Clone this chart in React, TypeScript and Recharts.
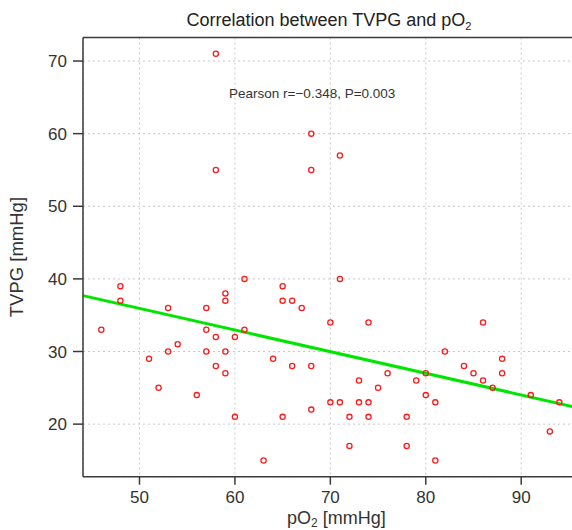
import React from 'react';
import { ScatterChart, Scatter, XAxis, YAxis, CartesianGrid, ReferenceLine, ReferenceDot } from 'recharts';

// pO2 [mmHg] and TVPG [mmHg] for each patient
const po2 = [
  46, 48, 48, 51, 52, 53, 53, 54, 56, 57, 57, 57, 58, 58, 58, 58, 59, 59, 59, 59,
  60, 60, 61, 61, 63, 64, 65, 65, 65, 66, 66, 67, 68, 68, 68, 68, 70, 70, 71, 71,
  71, 72, 72, 73, 73, 74, 74, 74, 75, 76, 78, 78, 79, 80, 80, 81, 81, 82, 84, 85,
  86, 86, 87, 88, 88, 91, 93, 94,
];
const tvpg = [
  33, 39, 37, 29, 25, 36, 30, 31, 24, 36, 33, 30, 71, 55, 32, 28, 38, 37, 30, 27,
  32, 21, 40, 33, 15, 29, 39, 37, 21, 37, 28, 36, 60, 55, 28, 22, 34, 23, 57, 40,
  23, 21, 17, 26, 23, 34, 23, 21, 25, 27, 21, 17, 26, 27, 24, 23, 15, 30, 28, 27,
  34, 26, 25, 29, 27, 24, 19, 23,
];

// fitted regression line, ends at the plot edges
const fitX = [44.08, 95.92];
const fitY = [37.7, 22.26];

const xTicks = [50, 60, 70, 80, 90];
const yTicks = [20, 30, 40, 50, 60, 70];
const xDomain = [44.08, 95.92];
const yDomain = [12.76, 73.24];

const points = po2.map((x, i) => ({ x, y: tvpg[i] }));

const FONT = '"Liberation Sans", Arial, Helvetica, sans-serif';
const AXIS = '#3a3a3a';

const Ring = (props: any) => (
  <circle cx={props.cx} cy={props.cy} r={2.6} fill="none" stroke="#ff1a1a" strokeWidth={1.3} />
);

const XTitle = (props: any) => {
  const vb = props.viewBox;
  return (
    <text x={vb.x + vb.width / 2 + 6} y={524} textAnchor="middle" fontSize={18} fill="#333" fontFamily={FONT}>
      pO<tspan fontSize={12} dy={3}>2</tspan>
      <tspan dy={-3}> [mmHg]</tspan>
    </text>
  );
};

const YTitle = (props: any) => {
  const vb = props.viewBox;
  const cy = vb.y + vb.height / 2;
  return (
    <text x={23} y={cy} transform={`rotate(-90, 23, ${cy})`} textAnchor="middle" fontSize={18.5} fill="#333" fontFamily={FONT}>
      TVPG [mmHg]
    </text>
  );
};

const Pearson = (props: any) => (
  <text x={props.cx} y={props.cy} textAnchor="middle" fontSize={13.5} fill="#333" fontFamily={FONT}>
    Pearson r=−0.348, P=0.003
  </text>
);

export default function App() {
  return (
    <div style={{ position: 'absolute', left: 0, top: 0, width: 572, height: 530, overflow: 'hidden', background: '#fff', fontFamily: FONT }}>
      <div style={{ position: 'absolute', left: 0, top: 10, width: 658, textAlign: 'center', fontSize: 18, color: '#222', lineHeight: '20px' }}>
        Correlation between TVPG and pO<span style={{ fontSize: 11, position: 'relative', top: 4 }}>2</span>
      </div>
      <ScatterChart width={580} height={530} margin={{ top: 37.5, right: 2.3, bottom: 0, left: 0 }}>
        <CartesianGrid stroke="#c8c8c8" strokeDasharray="2 3" />
        <XAxis
          type="number"
          dataKey="x"
          domain={xDomain}
          ticks={xTicks}
          allowDataOverflow
          height={53.3}
          tickSize={8}
          tickMargin={6}
          tick={{ fontSize: 17, fill: '#333', fontFamily: FONT }}
          axisLine={{ stroke: AXIS, strokeWidth: 1.5 }}
          tickLine={{ stroke: AXIS, strokeWidth: 1.5 }}
          label={XTitle}
        />
        <YAxis
          type="number"
          dataKey="y"
          domain={yDomain}
          ticks={yTicks}
          allowDataOverflow
          width={83}
          tickSize={10}
          tickMargin={6}
          tick={{ fontSize: 17, fill: '#333', fontFamily: FONT }}
          axisLine={{ stroke: AXIS, strokeWidth: 1.5 }}
          tickLine={{ stroke: AXIS, strokeWidth: 1.5 }}
          label={YTitle}
        />
        <ReferenceLine y={yDomain[1]} stroke={AXIS} strokeWidth={1.5} ifOverflow="visible" />
        <ReferenceLine
          segment={[{ x: fitX[0], y: fitY[0] }, { x: fitX[1], y: fitY[1] }]}
          stroke="#00e600"
          strokeWidth={3}
          ifOverflow="visible"
        />
        <ReferenceDot x={68.1} y={64.9} r={0} ifOverflow="visible" shape={Pearson} />
        <Scatter data={points} shape={Ring} isAnimationActive={false} />
      </ScatterChart>
    </div>
  );
}
